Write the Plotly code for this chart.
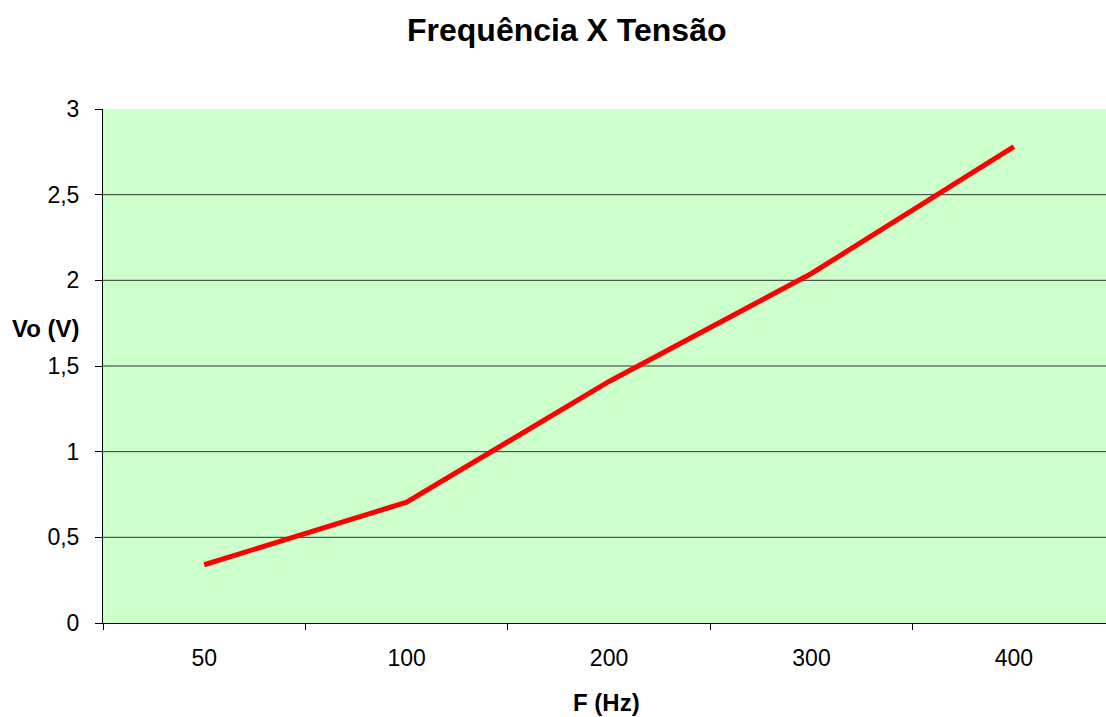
import plotly.graph_objects as go

categories = ["50", "100", "200", "300", "400"]
vo_values = [0.34, 0.705, 1.41, 2.04, 2.78]
y_tick_vals = [0, 0.5, 1, 1.5, 2, 2.5, 3]
y_tick_text = ["0", "0,5", "1", "1,5", "2", "2,5", "3"]
grid_vals = [0.5, 1, 1.5, 2, 2.5]

W, H = 1106, 717
L, R, T, B = 103, 0, 109, 94

fig = go.Figure()
fig.add_trace(go.Scatter(x=categories, y=vo_values, mode="lines",
                         line=dict(color="#ff0000", width=5), showlegend=False))

for g in grid_vals:
    fig.add_shape(type="line", xref="paper", yref="y", x0=0, x1=1, y0=g, y1=g,
                  line=dict(color="#333333", width=1), layer="below")

font_family = "Liberation Sans, Arial, sans-serif"
fig.update_layout(
    width=W, height=H,
    margin=dict(l=L, r=R, t=T, b=B, pad=0),
    paper_bgcolor="white",
    plot_bgcolor="#ccffcc",
    font=dict(family=font_family, size=23, color="black"),
    xaxis=dict(type="category", range=[-0.5, 4.455], showgrid=False,
               showline=True, linecolor="black", linewidth=1,
               ticks="outside", ticklen=6, tickcolor="black", tickson="boundaries",
               tickfont=dict(size=23), ticklabelstandoff=14, zeroline=False),
    yaxis=dict(range=[0, 3], showgrid=False, zeroline=False,
               tickvals=y_tick_vals, ticktext=y_tick_text,
               showline=True, linecolor="black", linewidth=1,
               ticks="outside", ticklen=7, tickcolor="black",
               tickfont=dict(size=23), ticklabelstandoff=11),
    annotations=[
        dict(text="<b>Frequência X Tensão</b>", x=567 / W, y=1 - 30 / H,
             xref="paper", yref="paper", showarrow=False,
             xanchor="center", yanchor="middle", font=dict(size=32)),
        dict(text="<b>F (Hz)</b>", x=606 / W, y=1 - 702 / H,
             xref="paper", yref="paper", showarrow=False,
             xanchor="center", yanchor="middle", font=dict(size=24)),
        dict(text="<b>Vo (V)</b>", x=46 / W, y=1 - 329 / H,
             xref="paper", yref="paper", showarrow=False,
             xanchor="center", yanchor="middle", font=dict(size=24)),
    ],
)
# convert page-pixel positions to plot-area paper coordinates
for a in fig.layout.annotations:
    px = a.x * W
    py = (1 - a.y) * H
    a.x = (px - L) / (W - L - R)
    a.y = 1 - (py - T) / (H - T - B)

fig.write_html("out.html")
